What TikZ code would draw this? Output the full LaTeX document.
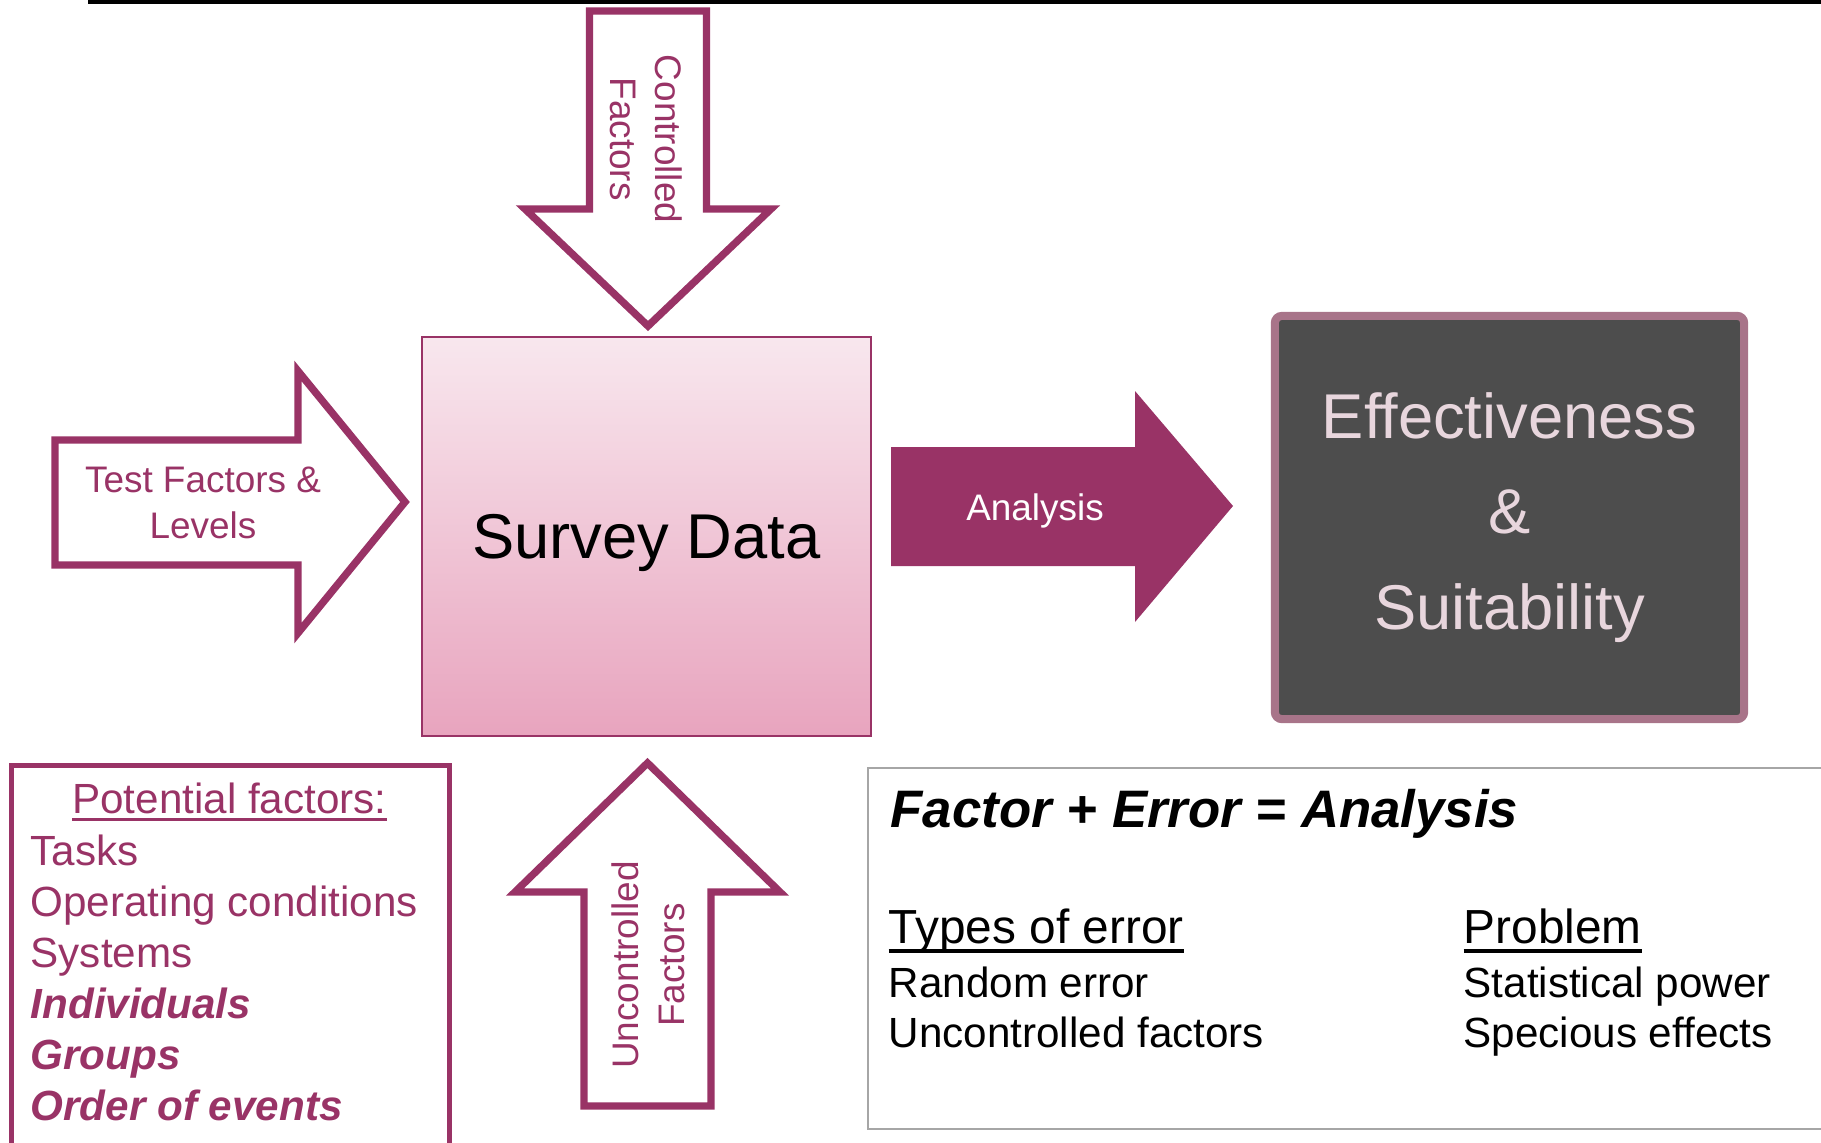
\documentclass[tikz,border=0pt]{standalone}
\usepackage{fontspec}
\setmainfont{Liberation Sans}
\usetikzlibrary{positioning, arrows.meta}

\definecolor{plum}{HTML}{993366}
\definecolor{rosetop}{HTML}{F8E7EE}
\definecolor{rosebot}{HTML}{E8A4BE}
\definecolor{slate}{HTML}{4D4D4D}
\definecolor{mauve}{HTML}{A87489}
\definecolor{blush}{HTML}{E8D6DD}
\definecolor{framegray}{HTML}{A6A6A6}

\newcommand{\ulword}[1]{\setbox0=\hbox{#1}\rlap{\rule[-0.2em]{\wd0}{0.08em}}\box0}

\begin{document}
\begin{tikzpicture}[x=0.01cm, y=-0.01cm,
    hollow/.style={draw=plum, line width=2.1pt, fill=white},
    lbl/.style={text=plum, font=\fontsize{10.5}{12.8}\selectfont, align=center, inner sep=0pt},
    big/.style={font=\fontsize{18}{27.2}\selectfont, align=center},
    list/.style={text=plum, font=\fontsize{12}{14.5}\selectfont, align=left, inner sep=0pt, anchor=base west},
    body/.style={font=\fontsize{12}{14.2}\selectfont, align=left, inner sep=0pt, anchor=base west},
    colhead/.style={font=\fontsize{13.6}{16}\selectfont, inner sep=0pt, anchor=base west},
    eqn/.style={font=\fontsize{15}{18}\selectfont\bfseries\itshape, inner sep=0pt, anchor=base west}]

  \useasboundingbox (0,0) rectangle (1821,1142);
  \fill (88,0) rectangle (1821,4);

  % boxes
  \node[big, draw=plum, line width=0.6pt, top color=rosetop, bottom color=rosebot,
    minimum width=4.49cm, minimum height=3.99cm, text depth=0pt] (survey) at (646.5,536.5) {Survey Data};
  \node[big, draw=mauve, line width=2.3pt, fill=slate, text=blush, rounded corners=2pt,
    minimum width=4.69cm, minimum height=4.03cm] (goal) at (1509.5,517.5) {Effectiveness\\\&\\Suitability};
  \node[draw=plum, line width=1.4pt, minimum width=4.38cm, minimum height=3.85cm,
    outer sep=0pt, anchor=north west] (factors) at (11.5,765.5) {};
  \node[draw=framegray, line width=0.6pt, minimum width=10cm, minimum height=3.61cm,
    outer sep=0pt, anchor=north west] (errors) at (868,768) {};

  % block arrows
  \draw[hollow] (589.5,11) -- (706.5,11) -- (706.5,209) -- (771,209) -- (648,326)
    -- (525,209) -- (589.5,209) -- cycle;
  \draw[hollow] (584,1106) -- (711,1106) -- (711,892) -- (780,892) -- (647.5,763)
    -- (515,892) -- (584,892) -- cycle;
  \draw[hollow] (55,440) -- (298,440) -- (298,371) -- (405,502) -- (298,633)
    -- (298,565) -- (55,565) -- cycle;
  \fill[plum] (891,447) -- (1135,447) -- (1135,391) -- (1233,506) -- (1135,622)
    -- (1135,566) -- (891,566) -- cycle;

  % base anchor = last line
  \node[lbl, rotate=-90, anchor=base] (ctrl) at (610,139) {Controlled\\Factors};
  \node[lbl, rotate=90, anchor=base] (unctrl) at (684,965) {Uncontrolled\\Factors};
  \node[lbl, anchor=base] (testlbl) at (203,538) {Test Factors \&\\Levels};
  \node[lbl, text=white, anchor=base] (anlbl) at (1035,520) {Analysis};

  % potential factors
  \node[list, anchor=base] (pftitle) at (229.5,813) {\ulword{Potential factors:}};
  \node[list] (pflist) at (30,1120) {Tasks\\Operating conditions\\Systems\\
    \textbf{\textit{Individuals}}\\\textbf{\textit{Groups}}\\\textbf{\textit{Order of events}}};

  % error table
  \node[eqn] (eq) at (890,827) {Factor + Error = Analysis};
  \node[colhead] (typeshd) at (888,943) {\ulword{Types of error}};
  \node[body] (types) at (888,1047) {Random error\\Uncontrolled factors};
  \node[colhead] (probhd) at (1463,943) {\ulword{Problem}};
  \node[body] (probs) at (1463,1047) {Statistical power\\Specious effects};

\end{tikzpicture}
\end{document}
